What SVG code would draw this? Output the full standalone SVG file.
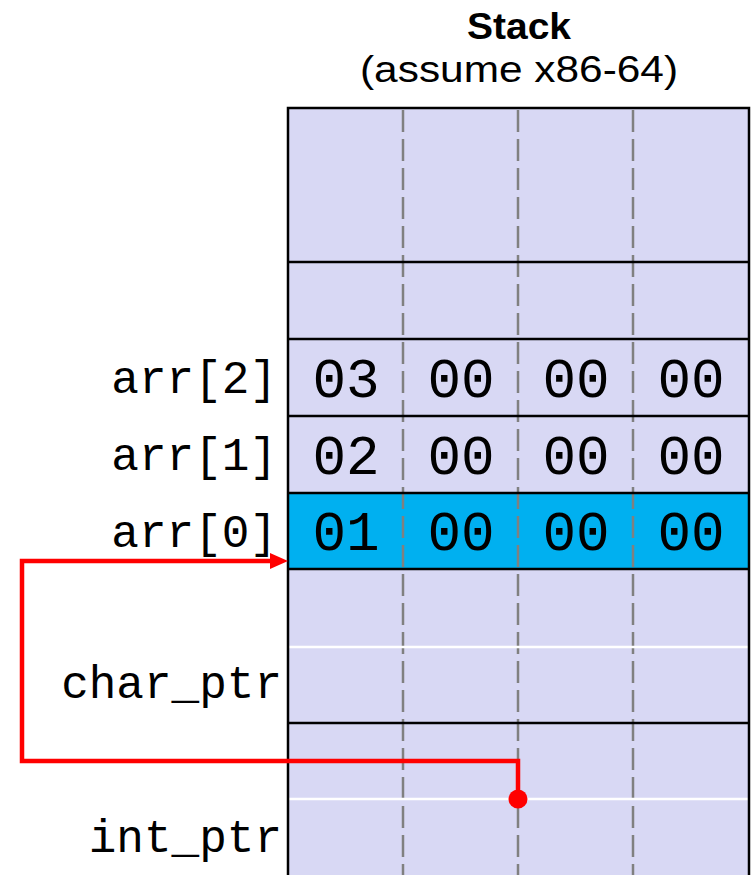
<svg xmlns="http://www.w3.org/2000/svg" width="751" height="875" viewBox="0 0 751 875">
<style>
.title{font-family:"Liberation Sans",Arial,sans-serif;fill:#000;text-anchor:middle}
.lbl{font-family:"Liberation Mono","Courier New",monospace;font-size:46px;fill:#000;text-anchor:end}
.val{font-family:"Liberation Mono","Courier New",monospace;font-size:56px;fill:#000;text-anchor:middle}
.blk{stroke:#000;stroke-width:2.5;fill:none}
.wht{stroke:#fff;stroke-width:2.5;fill:none}
.dash{stroke:#808080;stroke-width:2.5;stroke-dasharray:22 7;fill:none}
</style>
<g id="title">
<text class="title" x="519" y="39" font-size="37" font-weight="bold" textLength="104" lengthAdjust="spacingAndGlyphs">Stack</text>
<text class="title" x="519" y="82" font-size="37" textLength="318" lengthAdjust="spacingAndGlyphs">(assume x86-64)</text>
</g>
<g id="stack">
<rect x="288" y="108" width="461" height="780" fill="#D8D8F4"/>
<rect x="288" y="493" width="461" height="76" fill="#00B0F0"/>
<line class="dash" x1="403" y1="110" x2="403" y2="875"/>
<line class="dash" x1="518" y1="110" x2="518" y2="875"/>
<line class="dash" x1="633" y1="110" x2="633" y2="875"/>
<line class="wht" x1="289" y1="647" x2="749" y2="647"/>
<line class="wht" x1="289" y1="799" x2="749" y2="799"/>
<line class="blk" x1="288" y1="262" x2="749" y2="262"/>
<line class="blk" x1="288" y1="339" x2="749" y2="339"/>
<line class="blk" x1="288" y1="416" x2="749" y2="416"/>
<line class="blk" x1="288" y1="493" x2="749" y2="493"/>
<line class="blk" x1="288" y1="569" x2="749" y2="569"/>
<line class="blk" x1="288" y1="723" x2="749" y2="723"/>
<path class="blk" d="M288,876 V108 H749 V876"/>
</g>
<g id="arr2">
<text class="lbl" x="277" y="393">arr[2]</text>
<text class="val" x="346" y="397">03</text>
<text class="val" x="461" y="397">00</text>
<text class="val" x="576" y="397">00</text>
<text class="val" x="691" y="397">00</text>
</g>
<g id="arr1">
<text class="lbl" x="277" y="470">arr[1]</text>
<text class="val" x="346" y="474">02</text>
<text class="val" x="461" y="474">00</text>
<text class="val" x="576" y="474">00</text>
<text class="val" x="691" y="474">00</text>
</g>
<g id="arr0">
<text class="lbl" x="277" y="547">arr[0]</text>
<text class="val" x="346" y="550">01</text>
<text class="val" x="461" y="550">00</text>
<text class="val" x="576" y="550">00</text>
<text class="val" x="691" y="550">00</text>
</g>
<g id="char_ptr">
<text class="lbl" x="282" y="698">char_ptr</text>
</g>
<g id="int_ptr">
<text class="lbl" x="282" y="852">int_ptr</text>
</g>
<g id="connectors">
<path d="M518,799 V761 H22 V561 H272" fill="none" stroke="#ff0000" stroke-width="4.5" stroke-linejoin="miter"/>
<path d="M270,553 L288,561 L270,569 z" fill="#ff0000"/>
<circle cx="518" cy="799" r="9.5" fill="#ff0000"/>
</g>
</svg>
